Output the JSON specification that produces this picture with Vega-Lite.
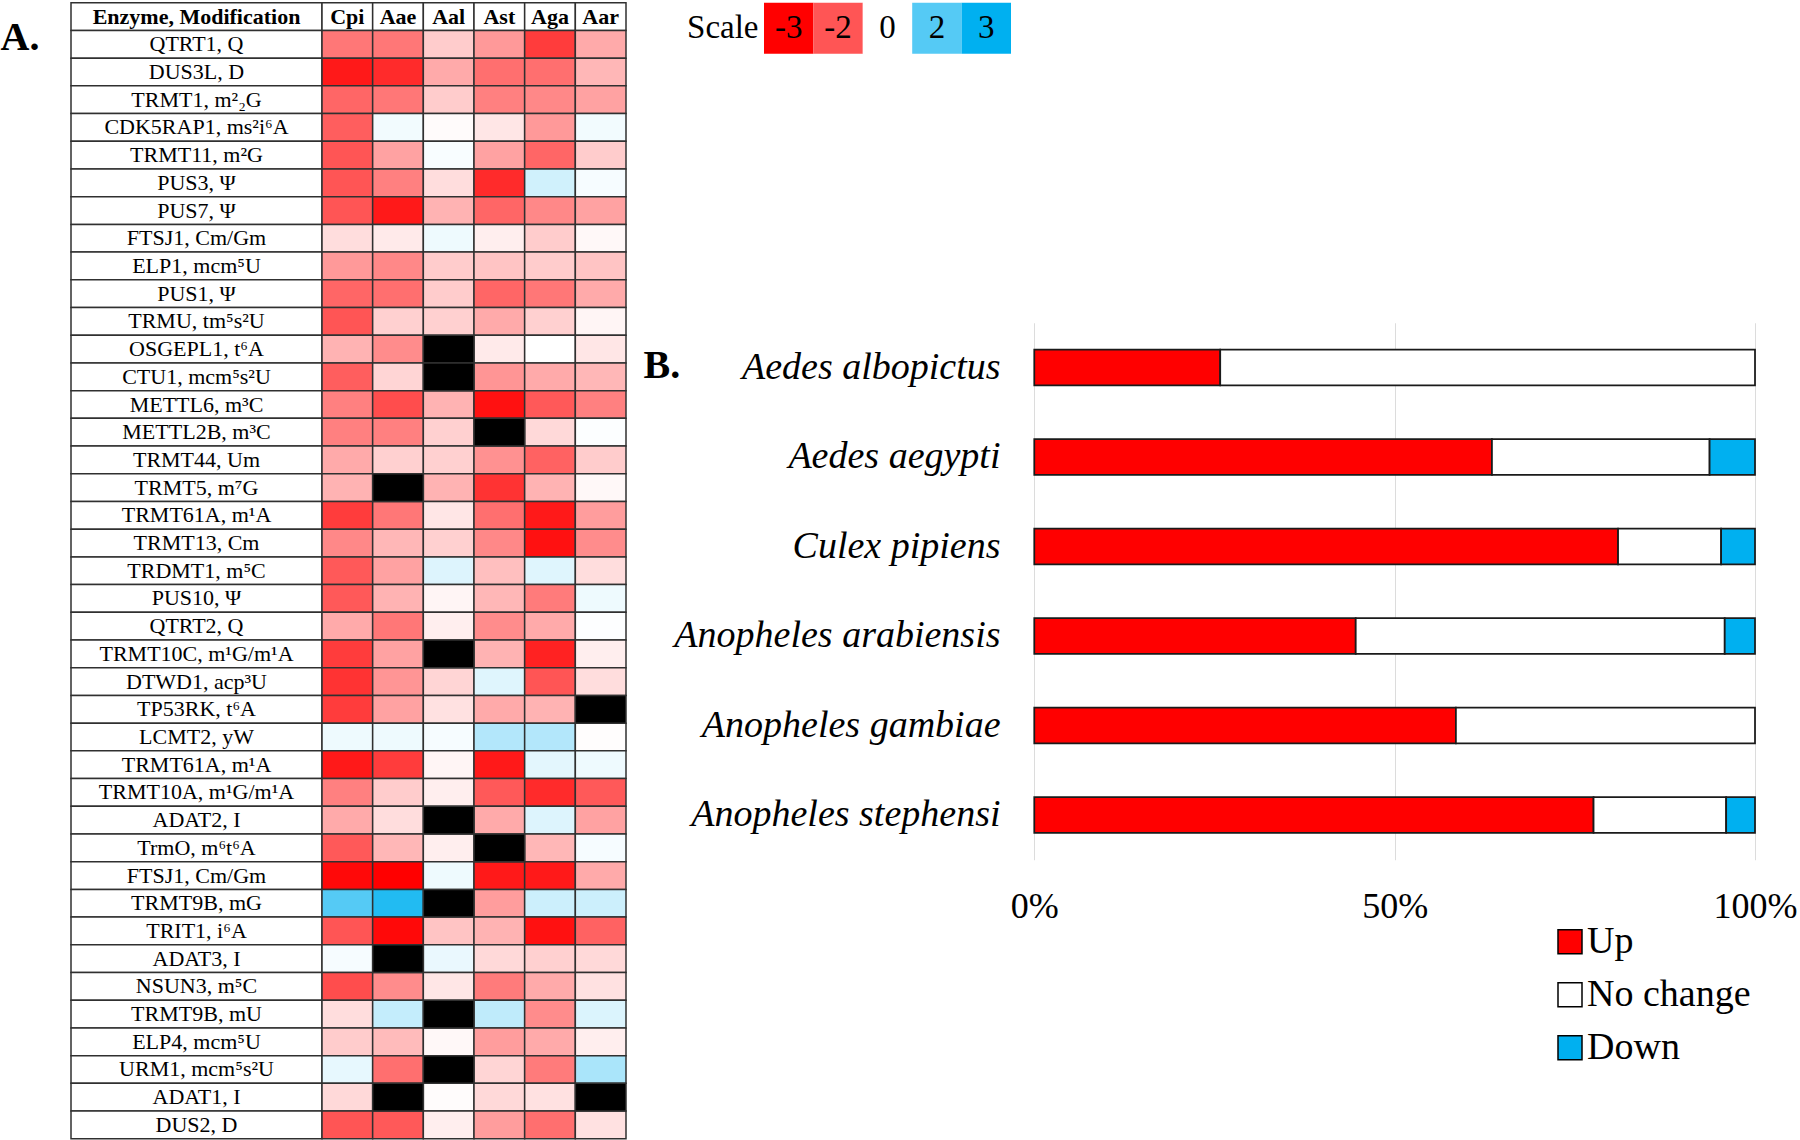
{
  "$schema": "https://vega.github.io/schema/vega-lite/v6.json",
  "padding": {"left": 0, "top": 1.75, "right": 0, "bottom": 0},
  "background": "white",
  "config": {"view": {"stroke": null}, "font": "Liberation Serif"},
  "datasets": {
    "tbl": [
      {"row": 0, "name": "Enzyme, Modification"},
      {"row": 1, "name": "QTRT1, Q", "Cpi": -1.6, "Aae": -1.6, "Aal": -0.6, "Ast": -1.2, "Aga": -2.3, "Aar": -1.0},
      {"row": 2, "name": "DUS3L, D", "Cpi": -2.7, "Aae": -2.5, "Aal": -1.0, "Ast": -1.7, "Aga": -1.7, "Aar": -0.85},
      {"row": 3, "name": "TRMT1, m²₂G", "Cpi": -1.8, "Aae": -1.6, "Aal": -0.6, "Ast": -1.5, "Aga": -1.4, "Aar": -1.1},
      {"row": 4, "name": "CDK5RAP1, ms²i⁶A", "Cpi": -1.9, "Aae": 0.15, "Aal": -0.05, "Ast": -0.3, "Aga": -1.2, "Aar": 0.15},
      {"row": 5, "name": "TRMT11, m²G", "Cpi": -2.0, "Aae": -1.1, "Aal": 0.08, "Ast": -1.1, "Aga": -1.8, "Aar": -0.6},
      {"row": 6, "name": "PUS3, Ψ", "Cpi": -2.0, "Aae": -1.5, "Aal": -0.4, "Ast": -2.5, "Aga": 0.55, "Aar": 0.1},
      {"row": 7, "name": "PUS7, Ψ", "Cpi": -2.0, "Aae": -2.7, "Aal": -0.9, "Ast": -1.8, "Aga": -1.4, "Aar": -1.1},
      {"row": 8, "name": "FTSJ1, Cm/Gm", "Cpi": -0.4, "Aae": -0.25, "Aal": 0.2, "Ast": -0.2, "Aga": -0.6, "Aar": -0.08},
      {"row": 9, "name": "ELP1, mcm⁵U", "Cpi": -1.2, "Aae": -1.4, "Aal": -0.6, "Ast": -0.7, "Aga": -0.6, "Aar": -0.7},
      {"row": 10, "name": "PUS1, Ψ", "Cpi": -1.8, "Aae": -1.7, "Aal": -0.6, "Ast": -1.8, "Aga": -1.6, "Aar": -1.0},
      {"row": 11, "name": "TRMU, tm⁵s²U", "Cpi": -2.0, "Aae": -0.55, "Aal": -0.55, "Ast": -1.0, "Aga": -0.55, "Aar": -0.12},
      {"row": 12, "name": "OSGEPL1, t⁶A", "Cpi": -0.9, "Aae": -1.35, "Aal": null, "Ast": -0.25, "Aga": 0, "Aar": -0.3},
      {"row": 13, "name": "CTU1, mcm⁵s²U", "Cpi": -1.9, "Aae": -0.5, "Aal": null, "Ast": -1.25, "Aga": -1.0, "Aar": -0.85},
      {"row": 14, "name": "METTL6, m³C", "Cpi": -1.5, "Aae": -2.1, "Aal": -0.9, "Ast": -2.8, "Aga": -1.95, "Aar": -1.5},
      {"row": 15, "name": "METTL2B, m³C", "Cpi": -1.5, "Aae": -1.5, "Aal": -0.55, "Ast": null, "Aga": -0.45, "Aar": 0.03},
      {"row": 16, "name": "TRMT44, Um", "Cpi": -1.0, "Aae": -0.55, "Aal": -0.55, "Ast": -1.3, "Aga": -1.85, "Aar": -0.6},
      {"row": 17, "name": "TRMT5, m⁷G", "Cpi": -0.9, "Aae": null, "Aal": -0.9, "Ast": -2.4, "Aga": -0.9, "Aar": -0.08},
      {"row": 18, "name": "TRMT61A, m¹A", "Cpi": -2.3, "Aae": -1.6, "Aal": -0.3, "Ast": -1.7, "Aga": -2.7, "Aar": -1.15},
      {"row": 19, "name": "TRMT13, Cm", "Cpi": -1.4, "Aae": -0.85, "Aal": -0.55, "Ast": -1.4, "Aga": -2.8, "Aar": -1.35},
      {"row": 20, "name": "TRDMT1, m⁵C", "Cpi": -1.95, "Aae": -1.1, "Aal": 0.4, "Ast": -0.75, "Aga": 0.38, "Aar": -0.4},
      {"row": 21, "name": "PUS10, Ψ", "Cpi": -1.95, "Aae": -0.9, "Aal": -0.12, "Ast": -0.85, "Aga": -1.55, "Aar": 0.2},
      {"row": 22, "name": "QTRT2, Q", "Cpi": -1.0, "Aae": -1.6, "Aal": -0.2, "Ast": -1.35, "Aga": -1.0, "Aar": 0.02},
      {"row": 23, "name": "TRMT10C, m¹G/m¹A", "Cpi": -2.3, "Aae": -1.1, "Aal": null, "Ast": -0.9, "Aga": -2.6, "Aar": -0.2},
      {"row": 24, "name": "DTWD1, acp³U", "Cpi": -2.4, "Aae": -1.25, "Aal": -0.5, "Ast": 0.38, "Aga": -2.0, "Aar": -0.4},
      {"row": 25, "name": "TP53RK, t⁶A", "Cpi": -2.3, "Aae": -1.1, "Aal": -0.35, "Ast": -1.0, "Aga": -0.9, "Aar": null},
      {"row": 26, "name": "LCMT2, yW", "Cpi": 0.2, "Aae": 0.2, "Aal": 0.1, "Ast": 0.9, "Aga": 0.9, "Aar": -0.02},
      {"row": 27, "name": "TRMT61A, m¹A", "Cpi": -2.7, "Aae": -2.3, "Aal": -0.12, "Ast": -2.7, "Aga": 0.33, "Aar": 0.2},
      {"row": 28, "name": "TRMT10A, m¹G/m¹A", "Cpi": -1.5, "Aae": -0.6, "Aal": -0.2, "Ast": -1.95, "Aga": -2.5, "Aar": -1.95},
      {"row": 29, "name": "ADAT2, I", "Cpi": -1.0, "Aae": -0.4, "Aal": null, "Ast": -1.0, "Aga": 0.4, "Aar": -1.1},
      {"row": 30, "name": "TrmO, m⁶t⁶A", "Cpi": -1.95, "Aae": -0.85, "Aal": -0.2, "Ast": null, "Aga": -0.85, "Aar": 0.1},
      {"row": 31, "name": "FTSJ1, Cm/Gm", "Cpi": -2.9, "Aae": -3.0, "Aal": 0.2, "Ast": -2.7, "Aga": -2.7, "Aar": -1.0},
      {"row": 32, "name": "TRMT9B, mG", "Cpi": 2.0, "Aae": 2.6, "Aal": null, "Ast": -1.15, "Aga": 0.6, "Aar": 0.6},
      {"row": 33, "name": "TRIT1, i⁶A", "Cpi": -2.0, "Aae": -2.9, "Aal": -0.7, "Ast": -0.9, "Aga": -2.8, "Aar": -1.85},
      {"row": 34, "name": "ADAT3, I", "Cpi": 0.1, "Aae": null, "Aal": 0.25, "Ast": -0.45, "Aga": -0.55, "Aar": -0.45},
      {"row": 35, "name": "NSUN3, m⁵C", "Cpi": -2.1, "Aae": -1.35, "Aal": -0.3, "Ast": -1.55, "Aga": -1.0, "Aar": -0.35},
      {"row": 36, "name": "TRMT9B, mU", "Cpi": -0.4, "Aae": 0.7, "Aal": null, "Ast": 0.75, "Aga": -1.35, "Aar": 0.42},
      {"row": 37, "name": "ELP4, mcm⁵U", "Cpi": -0.6, "Aae": -0.8, "Aal": -0.08, "Ast": -1.15, "Aga": -1.0, "Aar": -0.2},
      {"row": 38, "name": "URM1, mcm⁵s²U", "Cpi": 0.28, "Aae": -1.7, "Aal": null, "Ast": -0.5, "Aga": -1.55, "Aar": 1.0},
      {"row": 39, "name": "ADAT1, I", "Cpi": -0.45, "Aae": null, "Aal": -0.03, "Ast": -0.45, "Aga": -0.35, "Aar": null},
      {"row": 40, "name": "DUS2, D", "Cpi": -2.0, "Aae": -1.95, "Aal": -0.2, "Ast": -1.15, "Aga": -1.7, "Aar": -0.35}
    ],
    "scalekey": [
      {"t": "-3", "v": -3}, {"t": "-2", "v": -2}, {"t": "0", "v": 0}, {"t": "2", "v": 2}, {"t": "3", "v": 3}
    ],
    "bars": [
      {"sp": "Aedes albopictus", "st": "Up", "pct": 25.8},
      {"sp": "Aedes albopictus", "st": "No change", "pct": 74.2},
      {"sp": "Aedes aegypti", "st": "Up", "pct": 63.5},
      {"sp": "Aedes aegypti", "st": "No change", "pct": 30.2},
      {"sp": "Aedes aegypti", "st": "Down", "pct": 6.3},
      {"sp": "Culex pipiens", "st": "Up", "pct": 81.0},
      {"sp": "Culex pipiens", "st": "No change", "pct": 14.3},
      {"sp": "Culex pipiens", "st": "Down", "pct": 4.7},
      {"sp": "Anopheles arabiensis", "st": "Up", "pct": 44.6},
      {"sp": "Anopheles arabiensis", "st": "No change", "pct": 51.2},
      {"sp": "Anopheles arabiensis", "st": "Down", "pct": 4.2},
      {"sp": "Anopheles gambiae", "st": "Up", "pct": 58.5},
      {"sp": "Anopheles gambiae", "st": "No change", "pct": 41.5},
      {"sp": "Anopheles stephensi", "st": "Up", "pct": 77.6},
      {"sp": "Anopheles stephensi", "st": "No change", "pct": 18.4},
      {"sp": "Anopheles stephensi", "st": "Down", "pct": 4.0}
    ]
  },
  "resolve": {"scale": {"color": "independent"}, "legend": {"color": "independent"}},
  "spacing": 16,
  "hconcat": [
    {
      "bounds": "flush",
      "spacing": 0,
      "resolve": {"scale": {"color": "independent"}, "legend": {"color": "independent"}},
      "hconcat": [
        {
          "width": 251,
          "height": 1136,
          "data": {"name": "tbl"},
          "encoding": {
            "y": {
              "field": "row", "type": "ordinal",
              "scale": {"domain": [0,1,2,3,4,5,6,7,8,9,10,11,12,13,14,15,16,17,18,19,20,21,22,23,24,25,26,27,28,29,30,31,32,33,34,35,36,37,38,39,40]},
              "axis": {"labels": false, "ticks": false, "domain": false, "grid": false, "title": "A.", "titleAngle": 0, "titleFontSize": 40, "titleFontWeight": "bold", "titleFont": "Liberation Serif", "titleColor": "black", "titleAlign": "left", "titleBaseline": "middle", "titleX": -71, "titleY": 35}
            },
            "x": {"datum": "n", "type": "nominal", "axis": null}
          },
          "layer": [
            {"mark": {"type": "rect", "fill": "white", "stroke": "#303030", "strokeWidth": 1.5}},
            {"transform": [{"filter": "datum.row > 0"}], "mark": {"type": "text", "fontSize": 22, "color": "black", "font": "Liberation Serif"}, "encoding": {"text": {"field": "name"}}},
            {"transform": [{"filter": "datum.row == 0"}], "mark": {"type": "text", "fontSize": 22, "fontWeight": "bold", "color": "black", "font": "Liberation Serif"}, "encoding": {"text": {"field": "name"}}}
          ]
        },
        {
          "width": 304,
          "height": 1136,
          "data": {"name": "tbl"},
          "transform": [{"fold": ["Cpi", "Aae", "Aal", "Ast", "Aga", "Aar"], "as": ["sp", "v"]}],
          "encoding": {
            "x": {"field": "sp", "type": "nominal", "sort": ["Cpi", "Aae", "Aal", "Ast", "Aga", "Aar"], "axis": null},
            "y": {
              "field": "row", "type": "ordinal", "axis": null,
              "scale": {"domain": [0,1,2,3,4,5,6,7,8,9,10,11,12,13,14,15,16,17,18,19,20,21,22,23,24,25,26,27,28,29,30,31,32,33,34,35,36,37,38,39,40]}
            }
          },
          "layer": [
            {"transform": [{"filter": "datum.row == 0"}], "mark": {"type": "rect", "fill": "white", "stroke": "#303030", "strokeWidth": 1.5}},
            {"transform": [{"filter": "datum.row == 0"}], "mark": {"type": "text", "fontSize": 22, "fontWeight": "bold", "color": "black", "font": "Liberation Serif"}, "encoding": {"text": {"field": "sp"}}},
            {
              "transform": [{"filter": "datum.row > 0 && isValid(datum.v)"}],
              "mark": {"type": "rect", "stroke": "#303030", "strokeWidth": 1.5},
              "encoding": {
                "color": {"field": "v", "type": "quantitative", "scale": {"domain": [-3, 0, 3], "range": ["#ff0000", "#ffffff", "#00b0f0"], "interpolate": "rgb"}, "legend": null}
              }
            },
            {"transform": [{"filter": "datum.row > 0 && !isValid(datum.v)"}], "mark": {"type": "rect", "fill": "black", "stroke": "#303030", "strokeWidth": 1.5}}
          ]
        }
      ]
    },
    {
      "spacing": 269,
      "resolve": {"scale": {"color": "independent"}, "legend": {"color": "independent"}},
      "vconcat": [
        {
          "width": 247,
          "height": 51,
          "data": {"name": "scalekey"},
          "encoding": {
            "x": {"field": "t", "type": "nominal", "sort": ["-3", "-2", "0", "2", "3"], "axis": null},
            "y": {"datum": "Scale", "type": "nominal", "axis": {"title": null, "labelFontSize": 33, "labelFont": "Liberation Serif", "labelColor": "black", "ticks": false, "domain": false, "grid": false, "labelPadding": 6}}
          },
          "layer": [
            {"mark": {"type": "rect"}, "encoding": {"color": {"field": "v", "type": "quantitative", "scale": {"domain": [-3, 0, 3], "range": ["#ff0000", "#ffffff", "#00b0f0"], "interpolate": "rgb"}, "legend": null}}},
            {"mark": {"type": "text", "fontSize": 33, "color": "black", "font": "Liberation Serif"}, "encoding": {"text": {"field": "t"}}}
          ]
        },
        {
          "width": 991,
          "height": 537,
          "data": {"name": "bars"},
          "mark": {"type": "bar", "stroke": "#1a1a1a", "strokeWidth": 1.75},
          "encoding": {
            "y": {
              "field": "sp", "type": "nominal",
              "sort": ["Aedes albopictus", "Aedes aegypti", "Culex pipiens", "Anopheles arabiensis", "Anopheles gambiae", "Anopheles stephensi"],
              "scale": {"paddingInner": 0.6, "paddingOuter": 0.3},
              "axis": {"offset": -270, "title": "B.", "titleAngle": 0, "titleFontSize": 40, "titleFontWeight": "bold", "titleFont": "Liberation Serif", "titleColor": "black", "titleAlign": "left", "titleBaseline": "middle", "titleX": -391, "titleY": 43, "labelFont": "Liberation Serif", "labelFontStyle": "italic", "labelFontSize": 38, "labelColor": "black", "labelPadding": 34, "labelLimit": 500, "ticks": false, "domain": false, "grid": false}
            },
            "x": {
              "field": "pct", "type": "quantitative", "stack": "normalize",
              "scale": {"domain": [-0.375, 1], "nice": false, "zero": false},
              "axis": {"title": null, "values": [0, 0.5, 1], "format": ".0%", "labelFont": "Liberation Serif", "labelFontSize": 36, "labelColor": "black", "labelPadding": 30, "labelFlush": false, "ticks": false, "domain": false, "grid": true, "gridColor": "#dcdcdc", "gridWidth": 1}
            },
            "order": {"field": "st", "type": "nominal", "sort": "descending"},
            "color": {
              "field": "st", "type": "nominal", "sort": ["Up", "No change", "Down"],
              "scale": {"domain": ["Up", "No change", "Down"], "range": ["#ff0000", "#ffffff", "#00b0f0"]},
              "legend": {"title": null, "orient": "none", "legendX": 787, "legendY": 600, "padding": 0, "symbolType": "square", "symbolSize": 576, "symbolStrokeColor": "black", "symbolStrokeWidth": 1.5, "symbolOpacity": 1, "labelFont": "Liberation Serif", "labelFontSize": 38, "labelColor": "black", "labelOffset": -2, "labelLimit": 400, "rowPadding": 15}
            }
          }
        }
      ]
    }
  ]
}
